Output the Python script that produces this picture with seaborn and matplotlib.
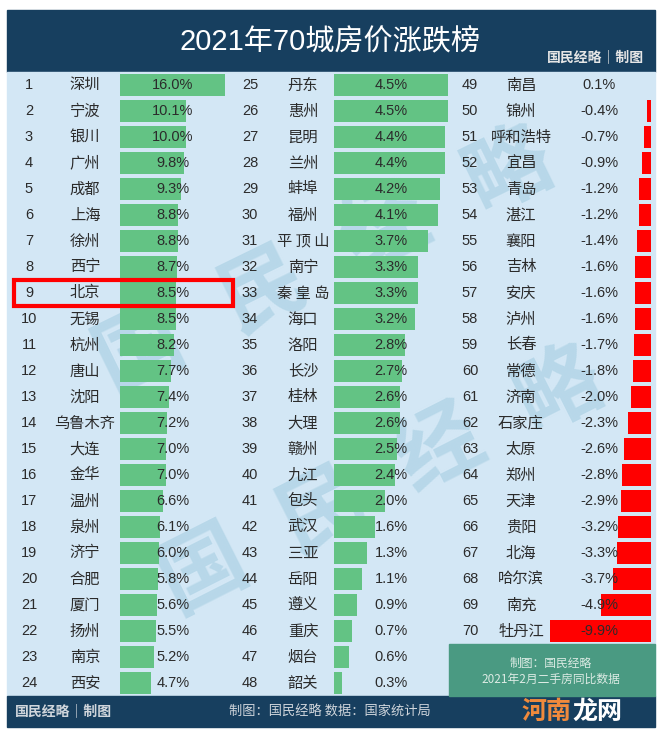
import numpy as np
import pandas as pd
import matplotlib
matplotlib.use("Agg")
import matplotlib.pyplot as plt
import matplotlib.transforms as mtrans
from matplotlib.patches import Rectangle
import seaborn as sns

sns.set_theme(style="white")
plt.rcParams['font.family'] = ['Liberation Sans', 'Noto Sans CJK SC', 'DejaVu Sans']

# ---------------- data ----------------
title = "2021年70城房价涨跌榜"
col1_rank = list(range(1, 25))
col1_city = ["深圳", "宁波", "银川", "广州", "成都", "上海", "徐州", "西宁", "北京", "无锡",
             "杭州", "唐山", "沈阳", "乌鲁木齐", "大连", "金华", "温州", "泉州", "济宁", "合肥",
             "厦门", "扬州", "南京", "西安"]
col1_val = [16.0, 10.1, 10.0, 9.8, 9.3, 8.8, 8.8, 8.7, 8.5, 8.5,
            8.2, 7.7, 7.4, 7.2, 7.0, 7.0, 6.6, 6.1, 6.0, 5.8,
            5.6, 5.5, 5.2, 4.7]

col2_rank = list(range(25, 49))
col2_city = ["丹东", "惠州", "昆明", "兰州", "蚌埠", "福州", "平 顶 山", "南宁", "秦 皇 岛", "海口",
             "洛阳", "长沙", "桂林", "大理", "赣州", "九江", "包头", "武汉", "三亚", "岳阳",
             "遵义", "重庆", "烟台", "韶关"]
col2_val = [4.5, 4.5, 4.4, 4.4, 4.2, 4.1, 3.7, 3.3, 3.3, 3.2,
            2.8, 2.7, 2.6, 2.6, 2.5, 2.4, 2.0, 1.6, 1.3, 1.1,
            0.9, 0.7, 0.6, 0.3]

col3_rank = list(range(49, 71))
col3_city = ["南昌", "锦州", "呼和浩特", "宜昌", "青岛", "湛江", "襄阳", "吉林", "安庆", "泸州",
             "长春", "常德", "济南", "石家庄", "太原", "郑州", "天津", "贵阳", "北海", "哈尔滨",
             "南充", "牡丹江"]
col3_val = [0.1, -0.4, -0.7, -0.9, -1.2, -1.2, -1.4, -1.6, -1.6, -1.6,
            -1.7, -1.8, -2.0, -2.3, -2.6, -2.8, -2.9, -3.2, -3.3, -3.7,
            -4.9, -9.9]

highlight_city = "北京"
source_text = "制图：国民经略 数据：国家统计局"
brand_text = "国民经略｜制图"
note_lines = ["制图：国民经略", "2021年2月二手房同比数据"]
watermark = "国民经略"

# ---------------- style ----------------
W, H = 658, 743
DARK = "#173f5f"
LIGHT = "#d3e7f5"
GREEN = "#63c384"
RED = "#ff0000"
TXT = "#2b2b2b"
NROWS = 24
ROW_TOP, ROW_BOT = 72, 696

fig = plt.figure(figsize=(W / 100, H / 100), dpi=100)
fig.patch.set_facecolor("white")
bg = fig.add_axes([0, 0, 1, 1])
bg.set_xlim(0, W)
bg.set_ylim(H, 0)
bg.axis("off")

bg.add_patch(Rectangle((7, 10), 648, 62, color=DARK, zorder=0))
bg.add_patch(Rectangle((7, ROW_TOP), 648, ROW_BOT - ROW_TOP, color=LIGHT, zorder=0))
bg.add_patch(Rectangle((7, ROW_BOT), 648, 31, color=DARK, zorder=0))

bg.text(330, 42, title, color="white", fontsize=21, fontweight="medium",
        ha="center", va="center", family=['Liberation Sans', 'Noto Sans CJK SC'])
bg.text(596, 58, brand_text, color="#e6e6e6", fontsize=10, fontweight="bold",
        ha="center", va="center", family=['Noto Sans CJK SC'])
bg.text(64, 712, brand_text, color="#d0d6dc", fontsize=10, fontweight="bold",
        ha="center", va="center", family=['Noto Sans CJK SC'])
bg.text(330, 712, source_text, color="#d0d6dc", fontsize=9.5,
        ha="center", va="center", family=['Noto Sans CJK SC'])

# watermark of the reposting site
bg.text(572, 712, "河南", color="#f08a3c", fontsize=18, fontweight="bold",
        ha="right", va="center", family=['Noto Sans CJK SC'])
bg.text(572, 712, "龙网", color="white", fontsize=18, fontweight="bold",
        ha="left", va="center", family=['Noto Sans CJK SC'])

# faint diagonal watermark, behind the bars
for (x0, y0, x1, y1) in [(140, 350, 508, 170), (203, 570, 559, 390)]:
    ang = np.degrees(np.arctan2(y0 - y1, x1 - x0))
    for k, ch in enumerate(watermark):
        t = k / (len(watermark) - 1)
        bg.text(x0 + (x1 - x0) * t, y0 + (y1 - y0) * t, ch, rotation=ang,
                fontsize=62, fontweight="bold", color="#b3d5e7", alpha=0.85,
                ha="center", va="center", zorder=1, family=['Noto Sans CJK SC'])


def make_col(x0, x1, xlim, cities, vals):
    ax = fig.add_axes([x0 / W, 1 - ROW_BOT / H, (x1 - x0) / W, (ROW_BOT - ROW_TOP) / H])
    df = pd.DataFrame({"city": cities, "val": vals})
    pal = {c: (GREEN if v >= 0 else RED) for c, v in zip(cities, vals)}
    sns.barplot(data=df, x="val", y="city", hue="city", palette=pal, legend=False,
                orient="h", width=0.88, saturation=1, linewidth=0, ax=ax)
    ax.set_xlim(*xlim)
    ax.set_ylim(NROWS - 0.5, -0.5)
    ax.axis("off")
    ax.patch.set_alpha(0)
    return ax


cols = [
    dict(rank=col1_rank, city=col1_city, val=col1_val, bx=(120, 225), xlim=(0, 16.0),
         rx=29, cx=85, vx=173),
    dict(rank=col2_rank, city=col2_city, val=col2_val, bx=(334, 448), xlim=(0, 4.5),
         rx=250, cx=303, vx=391),
    dict(rank=col3_rank, city=col3_city, val=col3_val, bx=(550, 651), xlim=(-9.9, 0),
         rx=470, cx=521, vx=599),
]

for c in cols:
    ax = make_col(c["bx"][0], c["bx"][1], c["xlim"], c["city"], c["val"])
    tr = mtrans.blended_transform_factory(bg.transData, ax.transData)
    for i, (r, name, v) in enumerate(zip(c["rank"], c["city"], c["val"])):
        bg.text(c["rx"], i, str(r), transform=tr, ha="center", va="center",
                fontsize=10.5, color=TXT, zorder=5)
        bg.text(c["cx"], i, name, transform=tr, ha="center", va="center",
                fontsize=11, color=TXT, zorder=5, family=['Noto Sans CJK SC'])
        ax.text(c["vx"], i, f"{v:.1f}%", transform=tr, ha="center", va="center",
                fontsize=10.5, color=TXT, zorder=5)
        if name == highlight_city:
            ax.add_patch(Rectangle((14, i - 0.5), 219, 1, transform=tr, fill=False,
                                   edgecolor=RED, linewidth=3, clip_on=False, zorder=6))
    c["ax"] = ax

# note box in the bottom-right corner
ax3 = cols[2]["ax"]
tr3 = mtrans.blended_transform_factory(bg.transData, ax3.transData)
n3 = len(col3_city)
ax3.add_patch(Rectangle((449, n3 - 0.5), 206, NROWS - n3, transform=tr3,
                        color="#4a9a82", clip_on=False, zorder=4))
for k, line in enumerate(note_lines):
    ax3.text(551, n3 + 0.25 + 0.6 * k, line, transform=tr3, ha="center", va="center",
             fontsize=8.5, color="#dcebe4", zorder=5, family=['Noto Sans CJK SC'])

fig.savefig("out.png", dpi=100, facecolor="white")
